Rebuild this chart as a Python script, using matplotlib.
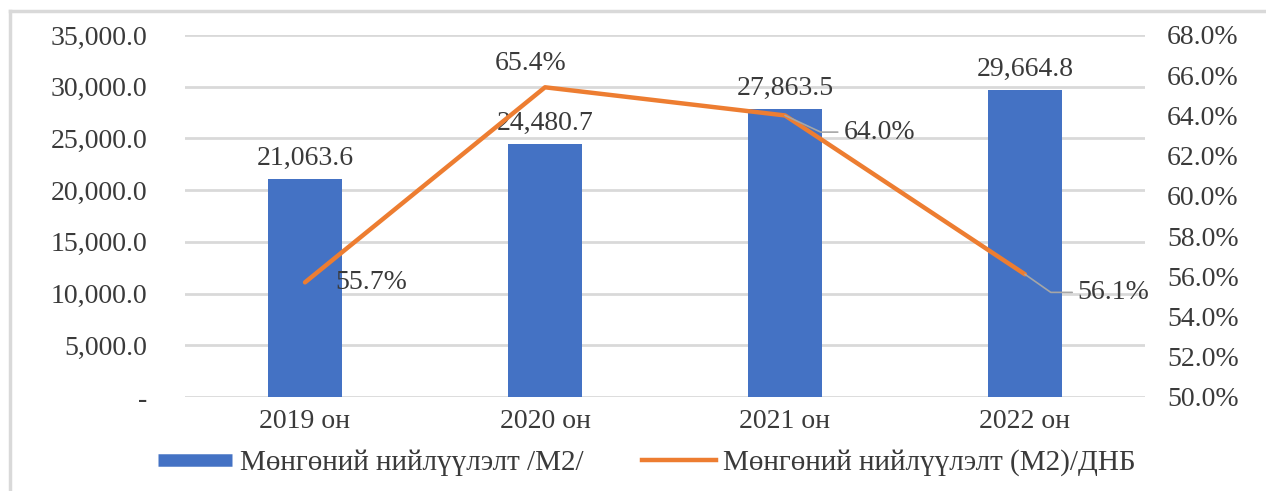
import matplotlib.pyplot as plt
from matplotlib.lines import Line2D
from matplotlib.ticker import FuncFormatter

plt.rcParams['font.family'] = ['Liberation Serif', 'DejaVu Serif']

# data
years = ['2019 он', '2020 он', '2021 он', '2022 он']
m2 = [21063.6, 24480.7, 27863.5, 29664.8]
m2_gdp = [55.7, 65.4, 64.0, 56.1]
bar_name = 'Мөнгөний нийлүүлэлт /М2/'
line_name = 'Мөнгөний нийлүүлэлт (М2)/ДНБ'

blue = '#4472C4'
orange = '#ED7D31'
txt = '#3a3a3a'
grid = '#d9d9d9'
fs = 20

fig = plt.figure(figsize=(12.66, 4.91), dpi=100)
ax = fig.add_axes([185 / 1266, 1 - 397 / 491, 960 / 1266, 362 / 491])
ax2 = ax.twinx()

x = list(range(len(years)))
ax.bar(x, m2, width=0.305, color=blue, zorder=2)
ax.set_xlim(-0.5, 3.5)
ax.set_ylim(0, 35000)
ax.set_yticks(range(0, 35001, 5000))
ax.yaxis.set_major_formatter(FuncFormatter(lambda v, p: '-' if v == 0 else f'{v:,.1f}'))
ax.set_xticks(x)
ax.set_xticklabels(years)
ax.grid(axis='y', color=grid, lw=2, zorder=0)
ax.set_axisbelow(True)
ax.tick_params(axis='y', length=0, pad=27, labelsize=fs, labelcolor=txt)
ax.tick_params(axis='x', length=0, pad=9, labelsize=fs, labelcolor=txt)
for s in ax.spines.values():
    s.set_visible(False)

# bar labels
for xi, v in zip(x, m2):
    ax.annotate(f'{v:,.1f}', (xi, v), xytext=(0, 6), textcoords='offset points',
                ha='center', va='bottom', fontsize=fs, color=txt)

# line on secondary axis
ax2.plot(x, m2_gdp, color=orange, lw=3.2, solid_capstyle='round', zorder=3)
ax2.set_ylim(50, 68)
ax2.set_yticks(range(50, 69, 2))
ax2.yaxis.set_major_formatter(FuncFormatter(lambda v, p: f'{v:.1f}%'))
ax2.tick_params(axis='y', length=0, pad=16, labelsize=fs, labelcolor=txt)
for s in ax2.spines.values():
    s.set_visible(False)

# line labels
ax2.annotate(f'{m2_gdp[0]:.1f}%', (x[0], m2_gdp[0]), xytext=(22, 0),
             textcoords='offset points', ha='left', va='center', fontsize=fs, color=txt)
ax2.annotate(f'{m2_gdp[1]:.1f}%', (x[1], m2_gdp[1]), xytext=(-10, 8),
             textcoords='offset points', ha='center', va='bottom', fontsize=fs, color=txt)
ax2.annotate(f'{m2_gdp[2]:.1f}%', (x[2], m2_gdp[2]), xytext=(42, -12),
             textcoords='offset points', ha='left', va='center', fontsize=fs, color=txt,
             arrowprops=dict(arrowstyle='-', color='#a6a6a6', lw=1.2, relpos=(0, 0.5),
                             shrinkA=2, shrinkB=0,
                             connectionstyle='angle,angleA=0,angleB=-25'))
ax2.annotate(f'{m2_gdp[3]:.1f}%', (x[3], m2_gdp[3]), xytext=(38, -13),
             textcoords='offset points', ha='left', va='center', fontsize=fs, color=txt,
             arrowprops=dict(arrowstyle='-', color='#a6a6a6', lw=1.2, relpos=(0, 0.5),
                             shrinkA=2, shrinkB=0,
                             connectionstyle='angle,angleA=0,angleB=-35'))

# legend
handles = [Line2D([], [], color=blue, lw=9, solid_capstyle='butt'),
           Line2D([], [], color=orange, lw=3.2)]
fig.legend(handles, [bar_name, line_name], loc='center', bbox_to_anchor=(0.511, 1 - 463 / 491),
           ncol=2, frameon=False, fontsize=21, labelcolor=txt, handlelength=2.55,
           handletextpad=0.25, columnspacing=2.0)

# outer frame
x0 = 10 / 1266
y0 = 1 - 11 / 491
fig.add_artist(Line2D([x0, x0], [0, y0], color=grid, lw=2.5))
fig.add_artist(Line2D([x0, 1], [y0, y0], color=grid, lw=2.5))

fig.savefig('out.png', dpi=100)
